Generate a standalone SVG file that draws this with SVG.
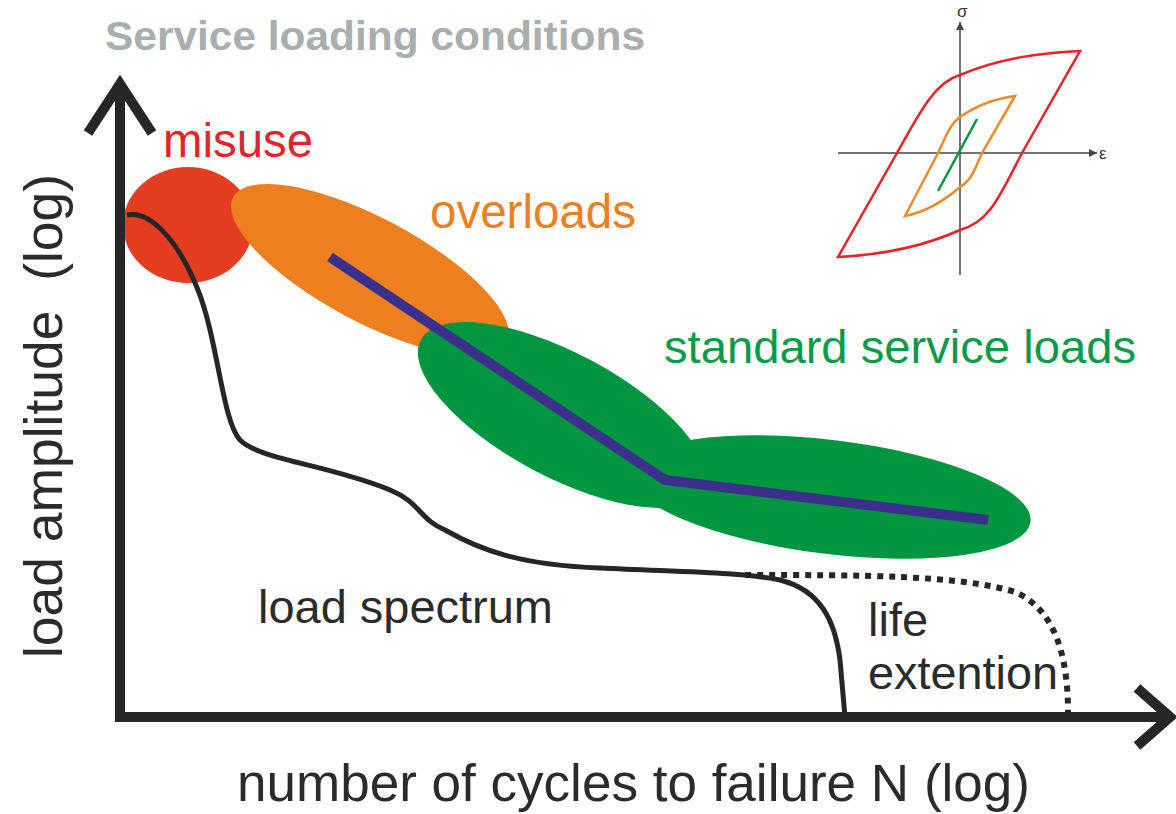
<svg xmlns="http://www.w3.org/2000/svg" width="1176" height="814" viewBox="0 0 1176 814">
<style>
text{font-family:"Liberation Sans",Arial,sans-serif}
.ax{stroke:#262626;stroke-width:10;fill:none}
.lbl{font-size:47px;fill:#2b2b2b}
.ins{stroke:#444;stroke-width:1.5;fill:none}
</style>
<defs>
<marker id="tri" viewBox="0 0 10 10" refX="10" refY="5" markerWidth="8" markerHeight="8" markerUnits="userSpaceOnUse" orient="auto"><path d="M0,0 L10,5 L0,10 z" fill="#444"/></marker>
</defs>
<rect width="1176" height="814" fill="#fff"/>
<text x="105" y="50" font-size="41" font-weight="bold" fill="#a9aeae" textLength="540" lengthAdjust="spacingAndGlyphs">Service loading conditions</text>

<g id="misuse">
<ellipse cx="188" cy="225" rx="65" ry="58" fill="#e43d22"/>
<text x="163" y="157" font-size="48" fill="#e3242b" textLength="150" lengthAdjust="spacingAndGlyphs">misuse</text>
</g>
<g id="overloads">
<ellipse cx="370" cy="270" rx="155" ry="52" transform="rotate(28 370 270)" fill="#ee7f1e"/>
<text x="430" y="228" font-size="48" fill="#ee7f1e" textLength="206" lengthAdjust="spacingAndGlyphs">overloads</text>
</g>
<g id="standard">
<ellipse cx="562" cy="415" rx="160" ry="62" transform="rotate(28 562 415)" fill="#009640"/>
<ellipse cx="830" cy="497" rx="202" ry="57" transform="rotate(7 830 497)" fill="#009640"/>
<text x="664" y="363" font-size="47" fill="#0a9a48" textLength="472" lengthAdjust="spacingAndGlyphs">standard service loads</text>
</g>
<g id="connectors">
<polyline points="330,257 665,480 988,520" fill="none" stroke="#3b2f8c" stroke-width="10" stroke-linejoin="miter"/>
<path d="M127,215 C150,210 178,240 198,290 C218,340 222,420 240,440 C260,460 330,465 390,490 C420,502 420,520 445,530 C480,550 520,565 600,568 C680,572 740,572 780,580 C820,590 835,620 840,660 L845,717" fill="none" stroke="#262626" stroke-width="5"/>
<path d="M745,575 C860,575 960,575 1015,592 C1052,608 1068,650 1068,712" fill="none" stroke="#262626" stroke-width="6" stroke-dasharray="6,6"/>
<line class="ax" x1="120" y1="84" x2="120" y2="722"/>
<polyline class="ax" points="88,133 120,84 152,133"/>
<line class="ax" x1="115" y1="717" x2="1170" y2="717"/>
<polyline class="ax" points="1137,688 1170,717 1137,746"/>
</g>
<g id="labels">
<text class="lbl" x="258" y="623" textLength="295" lengthAdjust="spacingAndGlyphs">load spectrum</text>
<text class="lbl" x="868" y="636">life</text>
<text class="lbl" x="868" y="689" textLength="190" lengthAdjust="spacingAndGlyphs">extention</text>
<text x="237" y="801" font-size="51" fill="#2b2b2b" textLength="793" lengthAdjust="spacingAndGlyphs">number of cycles to failure N (log)</text>
<text x="0" y="0" font-size="53" fill="#2b2b2b" transform="translate(62,658) rotate(-90)" xml:space="preserve" textLength="484" lengthAdjust="spacingAndGlyphs">load amplitude  (log)</text>
</g>
<g id="inset">
<line class="ins" x1="960" y1="275" x2="960" y2="22" marker-end="url(#tri)"/>
<line class="ins" x1="838" y1="153" x2="1097" y2="153" marker-end="url(#tri)"/>
<text x="957" y="17" font-family="Liberation Serif,serif" font-size="17" fill="#333">σ</text>
<text x="1099" y="159" font-family="Liberation Serif,serif" font-size="17" fill="#333">ε</text>
<path d="M838,257 L897,153 C920,112 935,82 960,75 C1000,58 1040,53 1080,51 L1022,153 C1000,195 990,222 960,230 C920,248 880,255 838,257 Z" fill="none" stroke="#e3242b" stroke-width="2.5" stroke-linejoin="miter"/>
<path d="M905,216 L938,153 C945,138 950,124 960,117 C980,103 1000,98 1015,96 L982,153 C975,168 972,180 960,187 C945,200 925,212 905,216 Z" fill="none" stroke="#f0892a" stroke-width="2.5"/>
<line x1="938" y1="191" x2="977" y2="119" stroke="#009640" stroke-width="2.5"/>
</g>
</svg>
